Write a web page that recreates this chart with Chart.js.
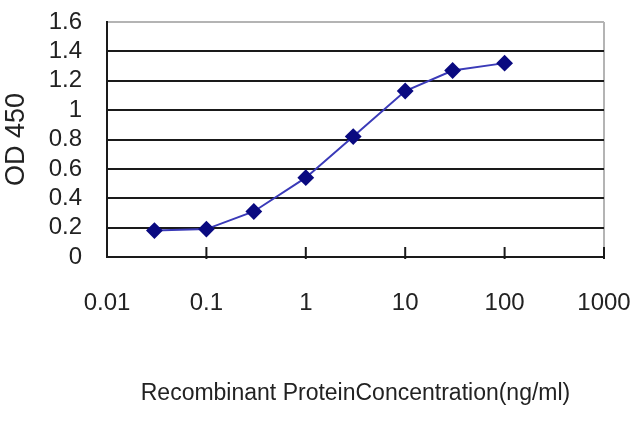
<!DOCTYPE html>
<html>
<head>
<meta charset="utf-8">
<script src="https://cdn.jsdelivr.net/npm/chart.js@4/dist/chart.umd.min.js"></script>
<style>
  html, body { margin: 0; padding: 0; background: #fff; }
  #wrap { width: 640px; height: 427px; }
</style>
</head>
<body>
<div id="wrap"><canvas id="odChart"></canvas></div>
<script>
// concentration (ng/ml) and OD 450 readings
var concentrations = [0.03, 0.1, 0.3, 1, 3, 10, 30, 100];
var odValues = [0.18, 0.19, 0.31, 0.54, 0.82, 1.13, 1.27, 1.32];

var xTickValues = [0.01, 0.1, 1, 10, 100, 1000];
var xTickLabels = ['0.01', '0.1', '1', '10', '100', '1000'];
var yTickValues = [0, 0.2, 0.4, 0.6, 0.8, 1, 1.2, 1.4, 1.6];
var yTickLabels = ['0', '0.2', '0.4', '0.6', '0.8', '1', '1.2', '1.4', '1.6'];

var FONT = "'Liberation Sans', Arial, sans-serif";

// Excel style tick marks sitting on the x axis
var crossTicks = {
  id: 'crossTicks',
  afterDraw: function(chart) {
    var ctx = chart.ctx, xs = chart.scales.x, bottom = chart.chartArea.bottom;
    ctx.save();
    ctx.strokeStyle = '#1a1a1a';
    ctx.lineWidth = 2;
    xTickValues.forEach(function(v, i) {
      if (i === 0) return;
      var px = xs.getPixelForValue(v);
      ctx.beginPath();
      ctx.moveTo(px, bottom - 10);
      ctx.lineTo(px, bottom + 2);
      ctx.stroke();
    });
    ctx.restore();
  }
};

var ctx = document.getElementById('odChart');
new Chart(ctx, {
  type: 'line',
  data: {
    datasets: [{
      data: concentrations.map(function(c, i) { return { x: c, y: odValues[i] }; }),
      borderColor: '#3a3ab8',
      borderWidth: 2,
      pointStyle: 'rectRot',
      pointRadius: 7,
      pointBackgroundColor: '#0a0a80',
      pointBorderColor: '#0a0a80',
      tension: 0,
      fill: false
    }]
  },
  options: {
    responsive: true,
    maintainAspectRatio: false,
    animation: false,
    layout: {
      padding: { left: 0, top: 22, right: 36, bottom: 20 }
    },
    plugins: {
      legend: { display: false },
      tooltip: { enabled: false }
    },
    scales: {
      x: {
        type: 'logarithmic',
        min: 0.01,
        max: 1000,
        afterBuildTicks: function(scale) {
          scale.ticks = xTickValues.map(function(v) { return { value: v }; });
        },
        afterFit: function(scale) {
          scale.height = 427 - 257 - 20;
          scale.paddingLeft = 0;
          scale.paddingRight = 0;
        },
        ticks: {
          autoSkip: false,
          maxRotation: 0,
          padding: 32,
          color: '#222',
          font: { family: FONT, size: 24 },
          callback: function(value) {
            var i = xTickValues.indexOf(value);
            return i >= 0 ? xTickLabels[i] : '';
          }
        },
        grid: {
          drawTicks: false,
          lineWidth: 2,
          color: function(c) {
            return c.index === xTickValues.length - 1 ? '#b4b4b4' : 'rgba(0,0,0,0)';
          }
        },
        border: { display: true, color: '#1a1a1a', width: 2 },
        title: {
          display: true,
          text: 'Recombinant ProteinConcentration(ng/ml)',
          color: '#222',
          font: { family: FONT, size: 23 },
          padding: { top: 0, bottom: 0 }
        }
      },
      y: {
        min: 0,
        max: 1.6,
        afterBuildTicks: function(scale) {
          scale.ticks = yTickValues.map(function(v) { return { value: v }; });
        },
        afterFit: function(scale) {
          scale.width = 107;
          scale.paddingTop = 0;
          scale.paddingBottom = 0;
        },
        ticks: {
          autoSkip: false,
          padding: 25,
          color: '#222',
          font: { family: FONT, size: 24 },
          callback: function(value) {
            var i = yTickValues.indexOf(value);
            return i >= 0 ? yTickLabels[i] : '';
          }
        },
        grid: {
          drawTicks: false,
          lineWidth: 2,
          color: function(c) {
            return c.tick && c.tick.value === 1.6 ? '#b4b4b4' : '#1a1a1a';
          }
        },
        border: { display: true, color: '#1a1a1a', width: 2 },
        title: {
          display: true,
          text: 'OD 450',
          color: '#222',
          font: { family: FONT, size: 27 },
          padding: { top: 0, bottom: 0 }
        }
      }
    }
  },
  plugins: [crossTicks]
});
</script>
</body>
</html>
